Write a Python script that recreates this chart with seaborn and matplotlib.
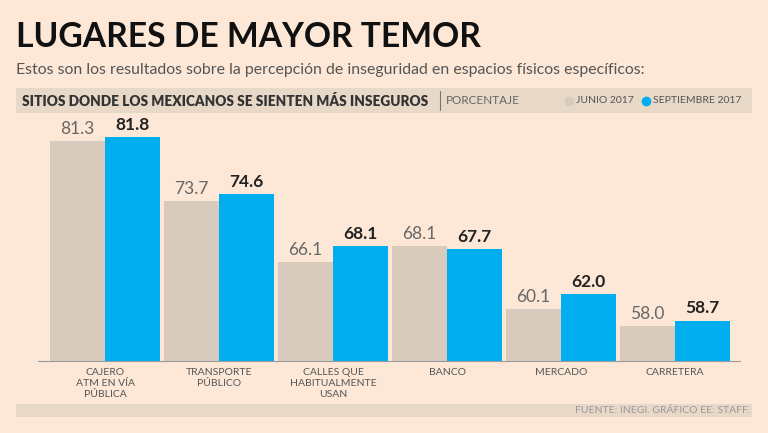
import pandas as pd
import matplotlib.pyplot as plt
import seaborn as sns
from matplotlib.patches import Rectangle
from matplotlib.lines import Line2D

# Datos
lugares = ["CAJERO\nATM EN VÍA\nPÚBLICA", "TRANSPORTE\nPÚBLICO", "CALLES QUE\nHABITUALMENTE\nUSAN",
           "BANCO", "MERCADO", "CARRETERA"]
junio = [81.3, 73.7, 66.1, 68.1, 60.1, 58.0]
septiembre = [81.8, 74.6, 68.1, 67.7, 62.0, 58.7]
periodos = ["JUNIO 2017", "SEPTIEMBRE 2017"]

bg = "#FDE8D7"
beige = "#D8CABD"
azul = "#00AEEF"
banda = "#E8D8C8"

df = pd.DataFrame({
    "lugar": lugares * 2,
    "valor": junio + septiembre,
    "periodo": [periodos[0]] * len(lugares) + [periodos[1]] * len(lugares),
})

sns.set_theme(style="white")
plt.rcParams["font.family"] = ["Lato", "DejaVu Sans"]

fig = plt.figure(figsize=(7.68, 4.33), dpi=100, facecolor=bg)
ax = fig.add_axes([38 / 768, 0.1663, 702 / 768, 0.561])
ax.set_facecolor(bg)

sns.barplot(data=df, x="lugar", y="valor", hue="periodo", palette=[beige, azul],
            saturation=1, width=0.965, linewidth=0, legend=False, ax=ax)

ax.set_ylim(53.6, 84.2)
ax.set_xlim(-0.59, 5.57)
ax.set_xlabel("")
ax.set_ylabel("")
ax.set_yticks([])
for s in ["top", "right", "left"]:
    ax.spines[s].set_visible(False)
ax.spines["bottom"].set_color("#9a9a9a")
ax.spines["bottom"].set_linewidth(0.8)
ax.tick_params(axis="x", length=0, pad=5, labelsize=7.5, colors="#555555")
for t in ax.get_xticklabels():
    t.set_linespacing(1.3)
    t.set_va("top")

# Etiquetas de valor
ax.bar_label(ax.containers[0], fmt="%.1f", padding=3, fontsize=12.5, color="#666666")
ax.bar_label(ax.containers[1], fmt="%.1f", padding=3, fontsize=12.5, color="#222222",
             fontweight="bold")

# Título y subtítulo
fig.text(16 / 768, 0.8915, "LUGARES DE MAYOR TEMOR", fontsize=24.2, fontweight="bold",
         color="#111111", va="baseline", ha="left")
fig.text(16 / 768, 0.829, "Estos son los resultados sobre la percepción de inseguridad en espacios físicos específicos:",
         fontsize=11.4, color="#555555", va="baseline", ha="left")

# Banda de encabezado
fig.patches.append(Rectangle((16 / 768, 1 - 113 / 433), 736 / 768, 25 / 433,
                             transform=fig.transFigure, facecolor=banda, edgecolor="none", zorder=0))
yb = 1 - 100.5 / 433
fig.text(22 / 768, yb, "SITIOS DONDE LOS MEXICANOS SE SIENTEN MÁS INSEGUROS", fontsize=9.8,
         fontweight="heavy", color="#333333", va="center", ha="left")
fig.add_artist(Line2D([440 / 768, 440 / 768], [yb - 0.022, yb + 0.022], transform=fig.transFigure,
                      color="#777777", linewidth=0.8))
fig.text(446 / 768, yb, "PORCENTAJE", fontsize=8.5, color="#666666",
         va="center", ha="left")
fig.add_artist(Line2D([569 / 768], [yb], transform=fig.transFigure, marker="o", markersize=6,
                      color=beige, linestyle="none"))
fig.text(576 / 768, yb, periodos[0], fontsize=7.5, color="#555555", va="center", ha="left")
fig.add_artist(Line2D([646 / 768], [yb], transform=fig.transFigure, marker="o", markersize=6,
                      color=azul, linestyle="none"))
fig.text(653 / 768, yb, periodos[1], fontsize=7.5, color="#555555", va="center", ha="left")

# Pie de página
fig.patches.append(Rectangle((16 / 768, 1 - 417 / 433), 736 / 768, 13 / 433,
                             transform=fig.transFigure, facecolor=banda, edgecolor="none", zorder=0))
fig.text(750 / 768, 1 - 410.5 / 433, "FUENTE: INEGI. GRÁFICO EE: STAFF.", fontsize=7.5,
         color="#999999", va="center", ha="right")

fig.savefig("out.png", dpi=100, facecolor=bg)
